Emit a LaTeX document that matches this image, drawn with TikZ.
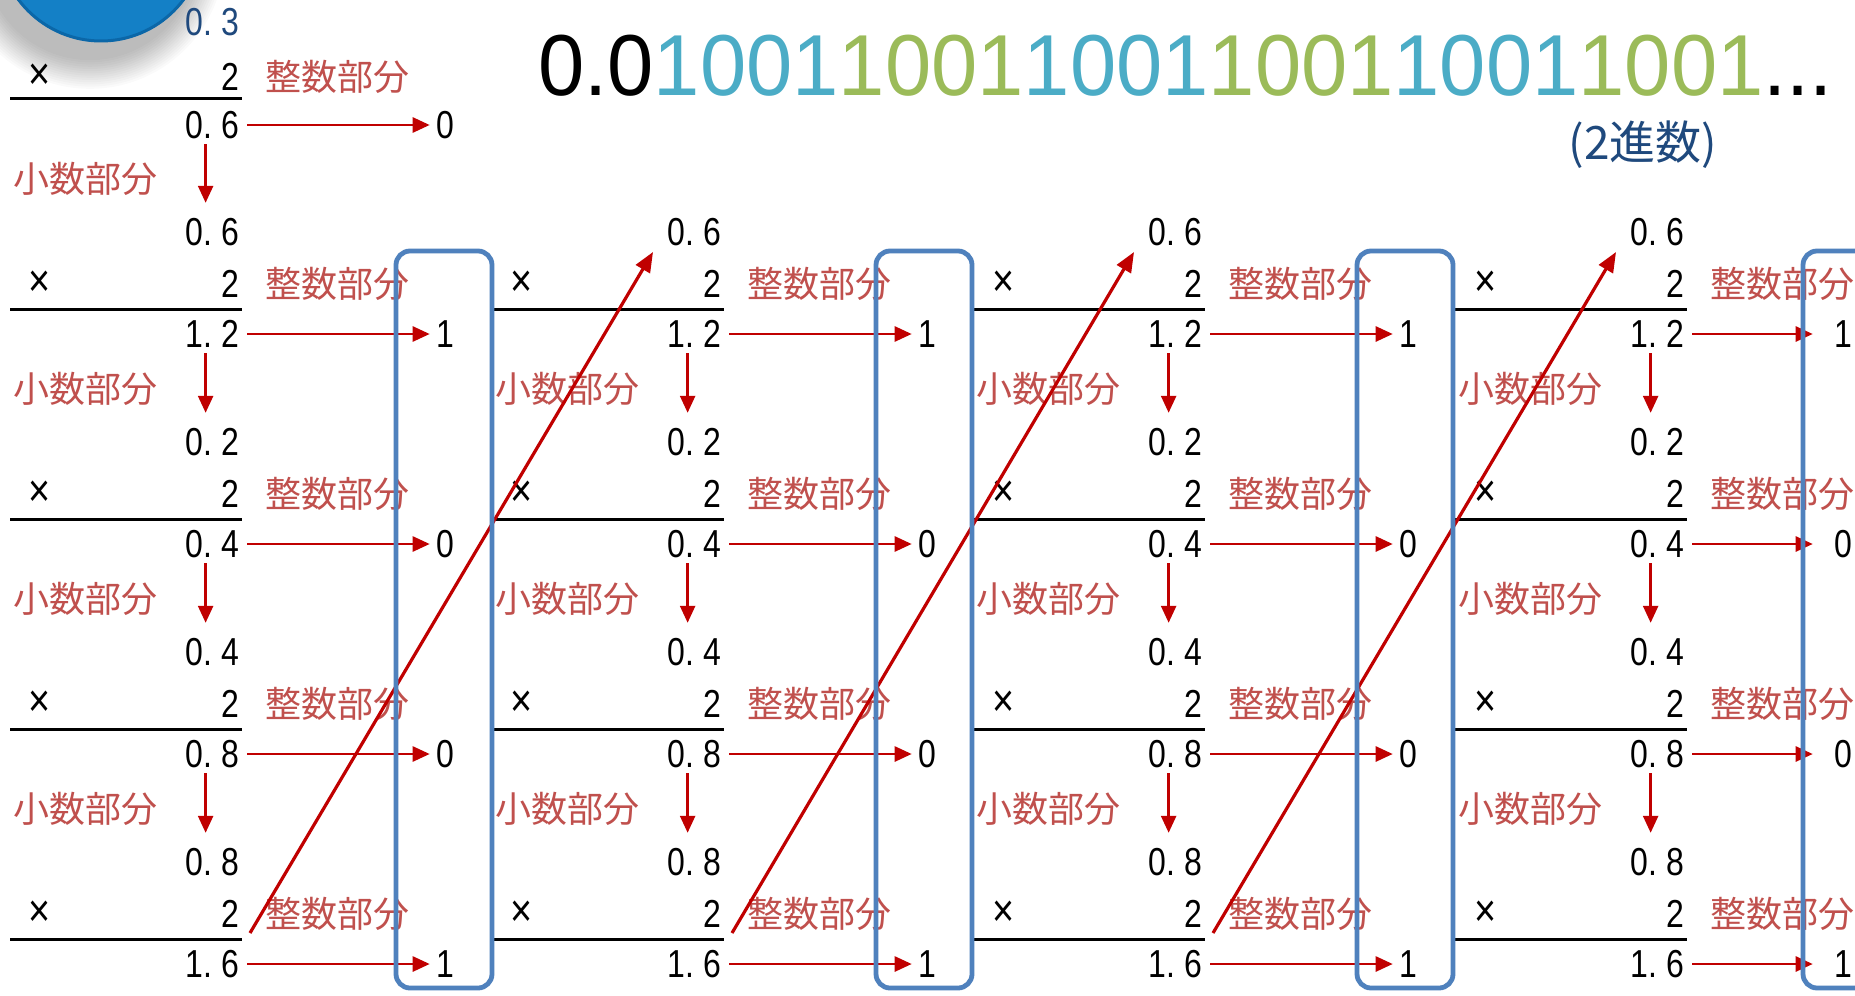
\documentclass[tikz,border=0pt]{standalone}
\usepackage{fontspec}
\setmainfont{Liberation Sans}
\newfontfamily\numf[FakeStretch=0.82]{Liberation Sans}
\newfontfamily\jpf{Noto Sans CJK JP}
\newfontfamily\ttlf[FakeStretch=0.96]{Liberation Sans}
\usetikzlibrary{arrows.meta}
\definecolor{lblred}{HTML}{C0504D}
\definecolor{arrred}{HTML}{C00000}
\definecolor{boxblue}{HTML}{4F81BD}
\definecolor{digblue}{HTML}{4BACC6}
\definecolor{diggreen}{HTML}{9BBB59}
\definecolor{navy}{HTML}{1F497D}
\definecolor{badgecol}{HTML}{1480C6}
\definecolor{badgedk}{HTML}{0B67A8}
\newcommand\nv[2]{#1.\kern4.75pt#2}
\begin{document}
\begin{tikzpicture}[x=0.5pt,y=-0.5pt,
  num/.style={inner sep=0pt, font=\numf\fontsize{19.5pt}{20pt}\selectfont},
  timesmark/.style={inner sep=0pt, font=\numf\fontsize{23pt}{24pt}\selectfont},
  jp/.style={inner sep=0pt, text=lblred, font=\jpf\fontsize{18pt}{20pt}\selectfont},
  rulestyle/.style={line width=1.5pt},
  harr/.style={draw=arrred, line width=1.3pt, -{Triangle[length=8.5pt,width=7.5pt]}},
  darr/.style={draw=arrred, line width=1.3pt, -{Triangle[length=8.5pt,width=7.5pt]}, shorten <=2.5pt, shorten >=7.5pt},
  diagarr/.style={draw=arrred, line width=1.6pt, -{Triangle[length=10pt,width=8pt]}},
  bbox/.style={draw=boxblue, line width=2.4pt, rounded corners=7pt}
]
\path[use as bounding box] (0,0) rectangle (1855,995);
\clip (0,0) rectangle (1855,995);
\fill[white] (0,0) rectangle (1855,995);

% badge with soft shadow
\foreach \i in {1,...,14} \fill[black, opacity=0.02] (90,-46) circle ({52pt+1.1pt*\i});
\fill[badgecol] (101,-62) circle (52pt);
\draw[badgedk, line width=1.5pt] (101,-62) circle (51.5pt);

% title
\node[anchor=west, inner sep=0pt, font=\ttlf\fontsize{43.3pt}{45pt}\selectfont] (title) at (538,66)
  {0.0\textcolor{digblue}{1001}\textcolor{diggreen}{1001}\textcolor{digblue}{1001}\textcolor{diggreen}{1001}\textcolor{digblue}{1001}\textcolor{diggreen}{1001}...};
\node[inner sep=0pt, text=navy, font=\jpf\fontsize{23pt}{25pt}\selectfont] (base) at (1643,145) {(2進数)};

% column 1, first block
\node[num, anchor=east, text=navy] (v-0-0) at (240,22) {\nv{0}{3}};
\node[timesmark] (x-0-0) at (40,77) {×};
\node[num, anchor=east] (t-0-0) at (240,77) {2};
\node[jp, anchor=west] (z-0-0) at (265,77) {整数部分};
\coordinate (ls-0-0) at (10,99);
\coordinate (le-0-0) at (242,99);
\draw[rulestyle] (ls-0-0) -- (le-0-0);
\node[num, anchor=east] (r-0-0) at (240,125) {\nv{0}{6}};
\node[num] (d-0-0) at (445,125) {0};
\draw[harr, shorten <=3.5pt, shorten >=3pt] (r-0-0.east) -- (d-0-0.west);

% blocks 1..4 of every column
\foreach \k/\L/\D/\S in {0/10/445/3pt, 1/492/927/3pt, 2/973/1408/3pt, 3/1455/1843/10.5pt} {
  \foreach \j/\va/\vb/\ra/\rb/\dg in {1/0/6/1/2/1, 2/0/2/0/4/0, 3/0/4/0/8/0, 4/0/8/1/6/1} {
    \pgfmathsetmacro\V{22+210*\j}
    \node[num, anchor=east] (v-\k-\j) at (\L+230,\V) {\nv{\va}{\vb}};
    \node[timesmark] (x-\k-\j) at (\L+30,\V+52) {×};
    \node[num, anchor=east] (t-\k-\j) at (\L+230,\V+52) {2};
    \node[jp, anchor=west] (z-\k-\j) at (\L+255,\V+52) {整数部分};
    \coordinate (ls-\k-\j) at (\L,\V+77);
    \coordinate (le-\k-\j) at (\L+232,\V+77);
    \draw[rulestyle] (ls-\k-\j) -- (le-\k-\j);
    \node[num, anchor=east] (r-\k-\j) at (\L+230,\V+102) {\nv{\ra}{\rb}};
    \node[num] (d-\k-\j) at (\D,\V+102) {\dg};
    \draw[harr, shorten <=3.5pt, shorten >=\S] (r-\k-\j.east) -- (d-\k-\j.west);
  }
}

% fractional part arrows
\foreach \k/\L/\js in {0/10/0, 1/492/1, 2/973/1, 3/1455/1} {
  \foreach \j in {\js,...,3} {
    \pgfmathtruncatemacro\jn{\j+1}
    \pgfmathsetmacro\V{22+210*\j}
    \node[jp, anchor=west] (s-\k-\j) at (\L+3,\V+157) {小数部分};
    \draw[darr] ([xshift=-3.5pt]r-\k-\j.south) -- ([xshift=-3.5pt]v-\k-\jn.north);
  }
}

% diagonals
\foreach \k/\L/\Ln in {0/10/492, 1/492/973, 2/973/1455} {
  \coordinate (ds-\k) at (\L+240,933);
  \coordinate (de-\k) at (\Ln+161,252);
  \draw[diagarr] (ds-\k) -- (de-\k);
}

% blue boxes
\foreach \bl in {396, 876, 1357, 1803} {
  \draw[bbox] (\bl,251) rectangle (\bl+96,988);
}
\end{tikzpicture}
\end{document}
